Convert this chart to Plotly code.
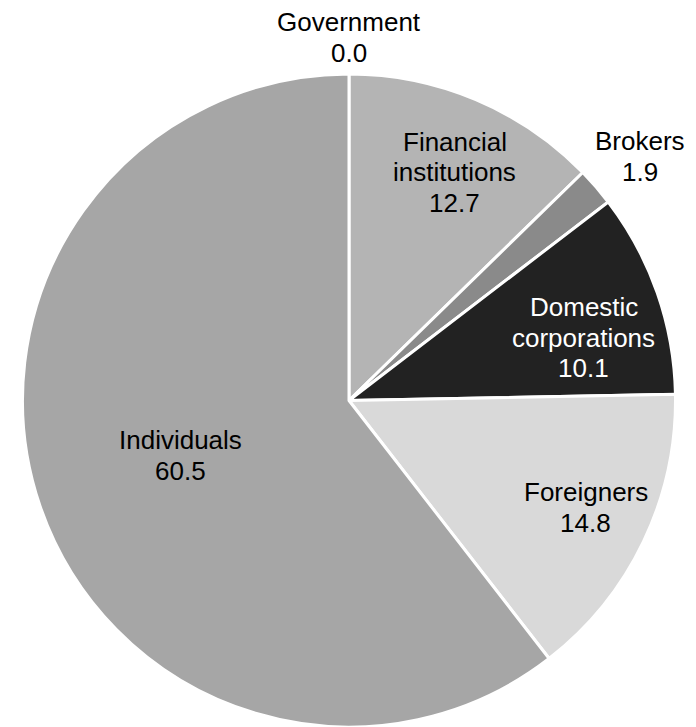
import math
import plotly.graph_objects as go

labels = ["Government", "Financial<br>institutions", "Brokers", "Domestic<br>corporations", "Foreigners", "Individuals"]
values = [0.0, 12.7, 1.9, 10.1, 14.8, 60.5]
colors = ["#9a9a9a", "#b4b4b4", "#8a8a8a", "#222222", "#d9d9d9", "#a6a6a6"]
# label placement style: radius as fraction of pie radius, angular nudge in degrees
label_radius = [1.112, 0.770, 1.163, 0.745, 0.796, 0.544]
label_nudge = [0.0, 2.0, 0.9, 4.3, -1.3, 0.9]
text_colors = ["black", "black", "black", "white", "black", "black"]

W, H = 696, 727
left, right, top = 21, 677, 74
d = min(right - left, H - top)
cx = (left + right) / 2
cy = top + d / 2
R = d / 2
LINE = 30.5

fig = go.Figure(go.Pie(
    labels=labels, values=values, sort=False, direction="clockwise", rotation=0,
    marker=dict(colors=colors, line=dict(color="white", width=3)),
    textinfo="none", hoverinfo="none", showlegend=False,
    domain=dict(x=[left / W, right / W], y=[0, 1 - top / H]),
))

total = sum(values)
cum = 0.0
for lab, v, rf, nd, tc in zip(labels, values, label_radius, label_nudge, text_colors):
    mid = (cum + v / 2) / total * 2 * math.pi + math.radians(nd)
    cum += v
    px = cx + rf * R * math.sin(mid)
    py = cy - rf * R * math.cos(mid)
    lines = lab.split("<br>") + [f"{v:.1f}"]
    n = len(lines)
    for i, ln in enumerate(lines):
        ly = py + (i - (n - 1) / 2) * LINE
        fig.add_annotation(
            x=px / W, y=1 - ly / H, xref="paper", yref="paper",
            text=ln, showarrow=False,
            xanchor="center", yanchor="middle",
            font=dict(family="Liberation Sans, Arial", size=26, color=tc),
        )

fig.update_layout(
    width=W, height=H, margin=dict(l=0, r=0, t=0, b=0),
    paper_bgcolor="white", plot_bgcolor="white",
)
fig.write_html("out.html")
